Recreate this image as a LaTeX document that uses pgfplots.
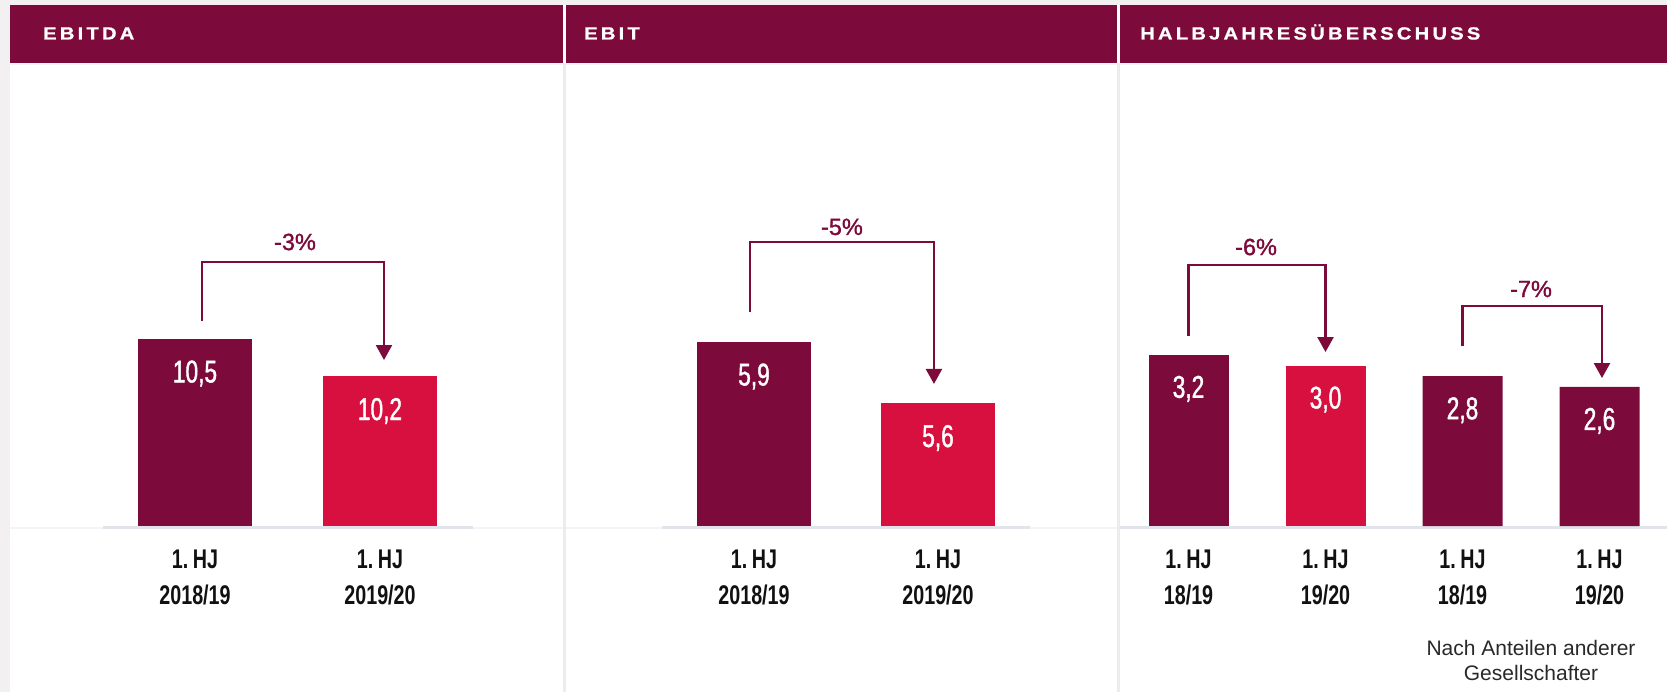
\documentclass[border=0pt]{standalone}
\usepackage{fontspec}
\setmainfont{Liberation Sans}
\newfontfamily\condfont[FakeStretch=0.73]{Liberation Sans}
\newfontfamily\valfont[FakeStretch=0.72,FakeBold=1.2]{Liberation Sans}
\newfontfamily\pctfont[FakeBold=1.2]{Liberation Sans}
\newfontfamily\hdrfont[FakeStretch=1.15,LetterSpace=18,FakeBold=0.8]{Liberation Sans}
\usepackage{pgfplots}
\pgfplotsset{compat=1.18}
\usetikzlibrary{arrows.meta}
\definecolor{dark}{HTML}{7C0B3C}
\definecolor{red1}{HTML}{D8103F}
\definecolor{bgg}{HTML}{F2F0F1}
\definecolor{divg}{HTML}{ECECEF}
\definecolor{basel}{HTML}{E1E5EB}
\definecolor{faint}{HTML}{F3F4F6}
\definecolor{txt}{HTML}{111111}

\pgfplotsset{
  panel/.style={
    scale only axis, anchor=south west, clip mode=individual,
    axis line style={draw=none}, tick style={draw=none}, major tick length=0pt,
    ytick=\empty,
    xticklabel style={font=\condfont\bfseries\fontsize{27}{36}\selectfont, text=txt, align=center, inner sep=0pt, anchor=north, yshift=-24pt},
    /pgf/number format/use comma,
    /pgf/number format/fixed,
    /pgf/number format/fixed zerofill,
    /pgf/number format/precision=1,
    /pgf/number format/assume math mode=true,
    nodes near coords,
    every node near coord/.append style={font=\valfont\fontsize{31.5}{36}\selectfont, text=white, anchor=base, yshift=-44pt, inner sep=0pt},
  },
}
\tikzset{
  pct/.style={font=\pctfont\fontsize{23.5}{28}\selectfont, text=dark, inner sep=0pt},
  arr/.style={draw=dark, line width=2.3pt, line join=miter, -{Triangle[width=16pt,length=15pt]}},
  hdr/.style={anchor=base west, inner sep=0pt, text=white, font=\hdrfont\bfseries\fontsize{17.6}{20}\selectfont},
}

\begin{document}
\begin{tikzpicture}
\useasboundingbox (0pt,0pt) rectangle (1667pt,-692pt);
% background and panels
\fill[bgg] (0pt,0pt) rectangle (1667pt,-692pt);
\fill[white] (10pt,-5pt) rectangle (1667pt,-692pt);
\fill[dark] (10pt,-5pt) rectangle (563pt,-63pt);
\fill[dark] (565.5pt,-5pt) rectangle (1117pt,-63pt);
\fill[dark] (1119.5pt,-5pt) rectangle (1667pt,-63pt);
\draw[faint, line width=2pt] (10pt,-64.5pt) -- (1667pt,-64.5pt);
\draw[divg, line width=2.5pt] (564.3pt,-63pt) -- (564.3pt,-692pt);
\draw[divg, line width=2.5pt] (1118.3pt,-63pt) -- (1118.3pt,-692pt);
\draw[faint, line width=2pt] (10pt,-527.5pt) -- (563pt,-527.5pt);
\draw[faint, line width=2pt] (566pt,-527.5pt) -- (1117pt,-527.5pt);
\draw[basel, line width=3pt] (102.5pt,-527.5pt) -- (472.5pt,-527.5pt);
\draw[basel, line width=3pt] (662pt,-527.5pt) -- (1030pt,-527.5pt);
\draw[basel, line width=3pt] (1120pt,-527.5pt) -- (1667pt,-527.5pt);
% headers
\node[hdr] at (43pt,-39.5pt) {EBITDA};
\node[hdr] at (584pt,-39.5pt) {EBIT};
\node[hdr] at (1140pt,-39.5pt) {HALBJAHRESÜBERSCHUSS};

% Panel 1: EBITDA
\begin{axis}[panel, at={(102.5pt,-526pt)}, width=370pt, height=437.5pt,
  xmin=-0.5, xmax=1.5, ymin=9, ymax=12.5,
  xtick={0,1}, xticklabels={{1.\,HJ\\2018/19},{1.\,HJ\\2019/20}}]
\addplot[ybar, bar width=114pt, fill=dark, draw=none] coordinates {(0,10.5)};
\addplot[ybar, bar width=114pt, fill=red1, draw=none] coordinates {(1,10.2)};
\draw[arr] (axis cs:0.0378,10.64) -- (axis cs:0.0378,11.112) -- (axis cs:1.0216,11.112) -- (axis cs:1.0216,10.328);
\node[pct] at (axis cs:0.5405,11.272) {-3\%};
\end{axis}

% Panel 2: EBIT
\begin{axis}[panel, at={(662pt,-526pt)}, width=368pt, height=410pt,
  xmin=-0.5, xmax=1.5, ymin=5, ymax=7,
  xtick={0,1}, xticklabels={{1.\,HJ\\2018/19},{1.\,HJ\\2019/20}}]
\addplot[ybar, bar width=114pt, fill=dark, draw=none] coordinates {(0,5.9)};
\addplot[ybar, bar width=114pt, fill=red1, draw=none] coordinates {(1,5.6)};
\draw[arr] (axis cs:-0.0217,6.044) -- (axis cs:-0.0217,6.385) -- (axis cs:0.978,6.385) -- (axis cs:0.978,5.693);
\node[pct] at (axis cs:0.478,6.459) {-5\%};
\end{axis}

% Panel 3: Halbjahresueberschuss
\begin{axis}[panel, at={(1120pt,-526pt)}, width=548pt, height=428pt,
  xmin=-0.5, xmax=3.5, ymin=0, ymax=8,
  every node near coord/.append style={yshift=1pt},
  xtick={0,1,2,3}, xticklabels={{1.\,HJ\\18/19},{1.\,HJ\\19/20},{1.\,HJ\\18/19},{1.\,HJ\\19/20}}]
\addplot[ybar, bar width=80pt, fill=dark, draw=none] coordinates {(0,3.2)};
\addplot[ybar, bar width=80pt, fill=red1, draw=none] coordinates {(1,3.0)};
\addplot[ybar, bar width=80pt, fill=dark, draw=none] coordinates {(2,2.8) (3,2.6)};
\draw[arr] (axis cs:0,3.551) -- (axis cs:0,4.879) -- (axis cs:1,4.879) -- (axis cs:1,3.252);
\node[pct] at (axis cs:0.493,5.215) {-6\%};
\draw[arr] (axis cs:2,3.364) -- (axis cs:2,4.112) -- (axis cs:3.018,4.112) -- (axis cs:3.018,2.766);
\node[pct] at (axis cs:2.5,4.43) {-7\%};
\node[anchor=north, inner sep=0pt, align=center, text=txt!90, font=\fontsize{21}{25}\selectfont] at (axis cs:2.5,-2.131) {Nach Anteilen anderer\\Gesellschafter};
\end{axis}
\end{tikzpicture}
\end{document}
